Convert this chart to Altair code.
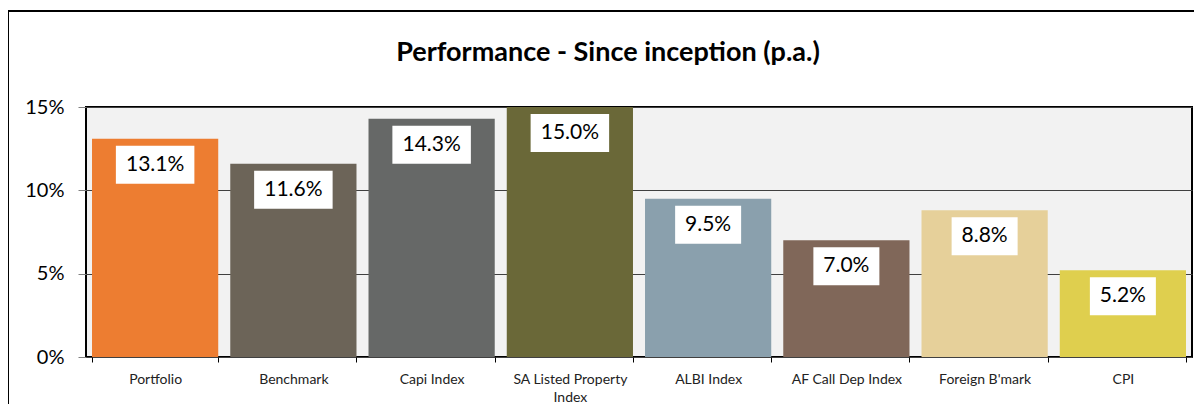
import altair as alt
import pandas as pd

categories = ["Portfolio", "Benchmark", "Capi Index", "SA Listed Property Index",
              "ALBI Index", "AF Call Dep Index", "Foreign B'mark", "CPI"]
values = [13.1, 11.6, 14.3, 15.0, 9.5, 7.0, 8.8, 5.2]
colors = ["#ED7D31", "#6C6458", "#666867", "#6A6838",
          "#8AA0AD", "#806759", "#E6D09A", "#DFCF4E"]
y_ticks = [0, 5, 10, 15]
title_text = "Performance - Since inception (p.a.)"

df = pd.DataFrame({
    "category": categories,
    "value": values,
    "label": [f"{v:.1f}%" for v in values],
})

FONT = "Lato"

x_scale = alt.Scale(domain=categories, paddingInner=0.087, paddingOuter=0.0435)
y_scale = alt.Scale(domain=[0, 15], nice=False)

wrap_expr = ("length(datum.label) > 20 ? "
             "[slice(datum.label, 0, lastindexof(datum.label, ' ')), "
             "slice(datum.label, lastindexof(datum.label, ' ') + 1)] : datum.label")

x_axis = alt.Axis(title=None, labelAngle=0, labelFontSize=14, labelFont=FONT,
                  labelColor="#222222", labelPadding=10, tickSize=5, tickColor="black",
                  tickBand="extent", domain=False, grid=False, labelExpr=wrap_expr,
                  labelLineHeight=18)
y_axis = alt.Axis(values=y_ticks, title=None, labelExpr="datum.value + '%'",
                  labelFontSize=20, labelFont=FONT, labelColor="black",
                  labelPadding=14, tickSize=8, tickColor="#808080",
                  gridColor="#404040", gridWidth=1, domain=False)

X = alt.X("category:N", sort=categories, scale=x_scale, axis=x_axis)
Y = alt.Y("value:Q", scale=y_scale, axis=y_axis)

base = alt.Chart(df)

bars = base.mark_bar().encode(
    x=X, y=Y,
    color=alt.Color("category:N", scale=alt.Scale(domain=categories, range=colors), legend=None),
)

boxes = base.transform_calculate(
    boxw="12.5*length(datum.label)+16"
).mark_bar(color="white", yOffset=7, y2Offset=45).encode(
    x=X, y=Y,
    y2=alt.Y2("value:Q"),
    size=alt.Size("boxw:Q", scale=None),
)

texts = base.mark_text(font=FONT, fontSize=21, color="black", baseline="middle",
                       align="center", dy=26).encode(
    x=X, y=Y,
    text="label:N",
)

one = pd.DataFrame({"d": [0]})
left_border = alt.Chart(one).mark_rule(color="black", strokeWidth=2).encode(
    x=alt.value(-78), y=alt.value(-96), y2=alt.value(400))
top_border = alt.Chart(one).mark_rule(color="black", strokeWidth=2).encode(
    x=alt.value(-78), x2=alt.value(1300), y=alt.value(-96))
title_mark = alt.Chart(one).mark_text(
    text=title_text, font=FONT, fontSize=27, fontWeight="bold", color="black",
    align="center", baseline="alphabetic").encode(
    x=alt.value(522), y=alt.value(-46))

chart = alt.layer(bars, boxes, texts, left_border, top_border, title_mark).properties(
    width=1106, height=250,
    autosize=alt.AutoSizeParams(type="none"),
    padding={"left": 78, "top": 99, "right": 2, "bottom": 47},
).configure_view(fill="#F2F2F2", stroke="black", strokeWidth=2)

chart.save("out.html", embed_options={"renderer": "svg", "actions": False})
